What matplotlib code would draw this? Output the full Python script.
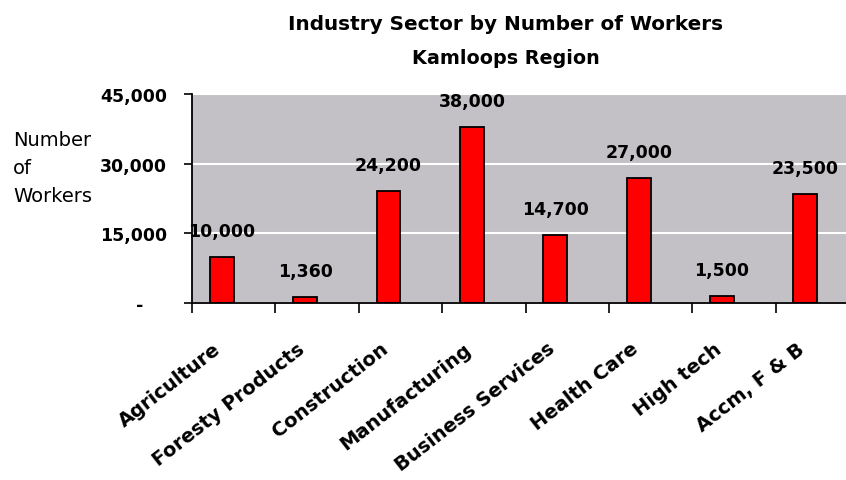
import matplotlib.pyplot as plt
from matplotlib.transforms import ScaledTranslation

# data
sectors = ['Agriculture', 'Foresty Products', 'Construction', 'Manufacturing',
           'Business Services', 'Health Care', 'High tech', 'Accm, F & B']
workers = [10000, 1360, 24200, 38000, 14700, 27000, 1500, 23500]
y_ticks = [0, 15000, 30000, 45000]
y_tick_labels = ['-    ', '15,000', '30,000', '45,000']

title = 'Industry Sector by Number of Workers'
subtitle = 'Kamloops Region'
y_label = 'Number\nof\nWorkers'


def plot_chart():
    fig = plt.figure(figsize=(8.46, 4.81), dpi=100)
    W, H = 846, 481
    # plot area in pixels: left 192, right 859 (runs off the image), top 95, bottom 304
    ax = fig.add_axes([192 / W, 1 - 304 / H, (859 - 192) / W, (304 - 95) / H])
    ax.set_facecolor('#c3c1c5')

    idx = list(range(len(sectors)))
    bar_w = 0.286
    xs = [i - bar_w / 2 for i in idx]
    ax.bar(xs, workers, width=bar_w, color='#ff0000', edgecolor='black',
           linewidth=1.3, zorder=3)

    for x, v in zip(xs, workers):
        ax.annotate(f'{v:,}', (x, v), xytext=(0, 12), textcoords='offset points',
                    ha='center', va='bottom', fontsize=12.5, fontweight='bold',
                    zorder=4)

    ax.set_xlim(-0.5, len(sectors) - 0.5)
    ax.set_ylim(0, 45000)

    # y axis
    ax.set_yticks(y_ticks, y_tick_labels)
    for lab in ax.get_yticklabels():
        lab.set_fontweight('bold')
        lab.set_fontsize(12.5)
    ax.tick_params(axis='y', length=6, width=1.2, pad=12, direction='out')
    ax.yaxis.grid(True, color='white', linewidth=1.5, zorder=0)
    ax.set_axisbelow(True)

    # x axis: ticks on category boundaries, labels on centres
    ax.set_xticks([i - 0.5 for i in range(len(sectors) + 1)])
    ax.set_xticklabels([])
    ax.tick_params(axis='x', which='major', length=7, width=1.2, direction='out')
    ax.set_xticks(idx, sectors, minor=True)
    ax.tick_params(axis='x', which='minor', length=0, pad=31)
    shift = ScaledTranslation(-15 / 100, 0, fig.dpi_scale_trans)
    for lab in ax.get_xticklabels(minor=True):
        lab.set_rotation(38)
        lab.set_rotation_mode('anchor')
        lab.set_ha('right')
        lab.set_va('center')
        lab.set_fontweight('bold')
        lab.set_fontsize(14)
        lab.set_transform(lab.get_transform() + shift)

    for side in ['top', 'right']:
        ax.spines[side].set_visible(False)
    ax.spines['left'].set_linewidth(1.3)
    ax.spines['bottom'].set_linewidth(1.3)
    ax.spines['left'].set_zorder(5)
    ax.spines['bottom'].set_zorder(5)

    fig.text(506 / W, 1 - 24 / H, title, ha='center', va='center',
             fontsize=14.4, fontweight='bold')
    fig.text(506 / W, 1 - 59 / H, subtitle, ha='center', va='center',
             fontsize=13.8, fontweight='bold')
    fig.text(13 / W, 1 - 169 / H, y_label, ha='left', va='center',
             fontsize=14, linespacing=1.6)

    fig.savefig('out.png', dpi=100)


if __name__ == '__main__':
    plot_chart()
